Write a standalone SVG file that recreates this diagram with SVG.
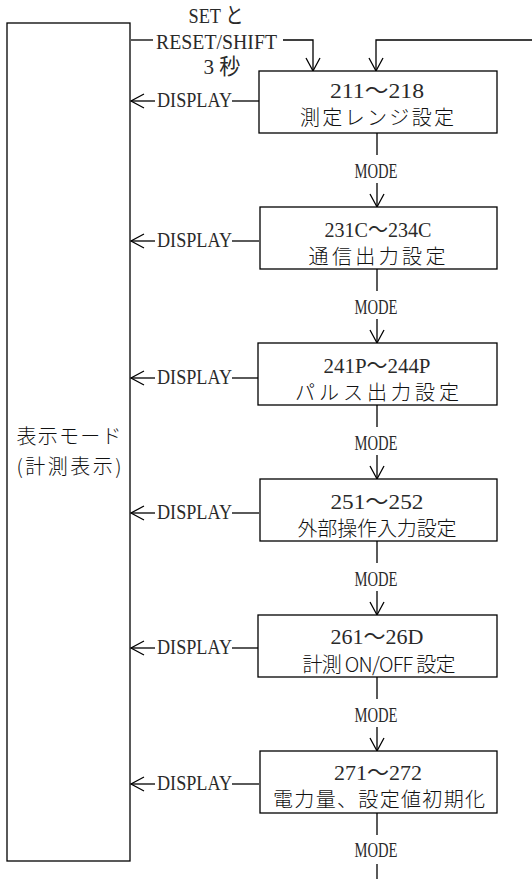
<svg xmlns="http://www.w3.org/2000/svg" width="532" height="879" viewBox="0 0 532 879">
<style>
.bx{fill:#fff;stroke:#000;stroke-width:1.3}
.ln{fill:none;stroke:#000;stroke-width:1.3}
.lt{font-family:"Liberation Serif","Noto Sans CJK JP",serif;font-size:22px;fill:#2a2a2a}
.jp{font-family:"Noto Sans CJK JP","Liberation Serif",sans-serif;font-size:20px;font-weight:300;fill:#111}
.c{text-anchor:middle}
</style>
<defs>
<marker id="ah" viewBox="-15 -9 17 18" markerWidth="17" markerHeight="18" refX="0" refY="0" orient="auto" markerUnits="userSpaceOnUse">
<path d="M-13,-7 L0,0 L-13,7" fill="none" stroke="#000" stroke-width="1.3"/>
</marker>
</defs>
<rect width="532" height="879" fill="#fff"/>
<g id="connectors">
<path class="ln" d="M131,40 H153"/>
<path class="ln" d="M283,40 H313 V71" marker-end="url(#ah)"/>
<path class="ln" d="M532,40 H376 V71" marker-end="url(#ah)"/>
<path class="ln" d="M155,101 H131" marker-end="url(#ah)"/><path class="ln" d="M232,101 H259"/>
<path class="ln" d="M155,241 H131" marker-end="url(#ah)"/><path class="ln" d="M232,241 H259"/>
<path class="ln" d="M155,378 H131" marker-end="url(#ah)"/><path class="ln" d="M232,378 H259"/>
<path class="ln" d="M155,513 H131" marker-end="url(#ah)"/><path class="ln" d="M232,513 H259"/>
<path class="ln" d="M155,648 H131" marker-end="url(#ah)"/><path class="ln" d="M232,648 H259"/>
<path class="ln" d="M155,784 H131" marker-end="url(#ah)"/><path class="ln" d="M232,784 H259"/>
<path class="ln" d="M377,133 V155"/><path class="ln" d="M377,183 V207" marker-end="url(#ah)"/>
<path class="ln" d="M377,269 V291"/><path class="ln" d="M377,319 V343" marker-end="url(#ah)"/>
<path class="ln" d="M377,405 V427"/><path class="ln" d="M377,455 V479" marker-end="url(#ah)"/>
<path class="ln" d="M377,541 V563"/><path class="ln" d="M377,591 V615" marker-end="url(#ah)"/>
<path class="ln" d="M377,677 V699"/><path class="ln" d="M377,727 V751" marker-end="url(#ah)"/>
<path class="ln" d="M377,813 V835"/><path class="ln" d="M377,864 V879"/>
<text class="lt c" x="216" y="23" textLength="55" lengthAdjust="spacingAndGlyphs">SET と</text>
<text class="lt c" x="216.5" y="49" textLength="121" lengthAdjust="spacingAndGlyphs">RESET/SHIFT</text>
<text class="lt c" x="222" y="74" textLength="37" lengthAdjust="spacingAndGlyphs">3 秒</text>
<text class="lt" x="157" y="107" textLength="75" lengthAdjust="spacingAndGlyphs">DISPLAY</text>
<text class="lt" x="157" y="247" textLength="75" lengthAdjust="spacingAndGlyphs">DISPLAY</text>
<text class="lt" x="157" y="384" textLength="75" lengthAdjust="spacingAndGlyphs">DISPLAY</text>
<text class="lt" x="157" y="519" textLength="75" lengthAdjust="spacingAndGlyphs">DISPLAY</text>
<text class="lt" x="157" y="654" textLength="75" lengthAdjust="spacingAndGlyphs">DISPLAY</text>
<text class="lt" x="157" y="790" textLength="75" lengthAdjust="spacingAndGlyphs">DISPLAY</text>
<text class="lt c" x="376" y="178" textLength="43" lengthAdjust="spacingAndGlyphs">MODE</text>
<text class="lt c" x="376" y="314" textLength="43" lengthAdjust="spacingAndGlyphs">MODE</text>
<text class="lt c" x="376" y="450" textLength="43" lengthAdjust="spacingAndGlyphs">MODE</text>
<text class="lt c" x="376" y="586" textLength="43" lengthAdjust="spacingAndGlyphs">MODE</text>
<text class="lt c" x="376" y="722" textLength="43" lengthAdjust="spacingAndGlyphs">MODE</text>
<text class="lt c" x="376" y="857" textLength="43" lengthAdjust="spacingAndGlyphs">MODE</text>
</g>
<g id="display-mode">
<rect class="bx" x="7" y="23" width="123" height="838"/>
<text class="jp c" x="69" y="444" textLength="105" lengthAdjust="spacing">表示モード</text>
<text class="jp c" x="69" y="474" textLength="105" lengthAdjust="spacing">(計測表示)</text>
</g>
<g id="n211">
<rect class="bx" x="259" y="71" width="238" height="62"/>
<text class="lt c" x="377" y="98" textLength="94" lengthAdjust="spacingAndGlyphs">211〜218</text>
<text class="jp c" x="377" y="125" textLength="154" lengthAdjust="spacing">測定レンジ設定</text>
</g>
<g id="n231">
<rect class="bx" x="260" y="207" width="237" height="62"/>
<text class="lt c" x="378" y="237" textLength="107" lengthAdjust="spacingAndGlyphs">231C〜234C</text>
<text class="jp c" x="377" y="264" textLength="137" lengthAdjust="spacing">通信出力設定</text>
</g>
<g id="n241">
<rect class="bx" x="258" y="343" width="239" height="62"/>
<text class="lt c" x="377" y="373" textLength="107" lengthAdjust="spacingAndGlyphs">241P〜244P</text>
<text class="jp c" x="377" y="400" textLength="164" lengthAdjust="spacing">パルス出力設定</text>
</g>
<g id="n251">
<rect class="bx" x="260" y="479" width="237" height="62"/>
<text class="lt c" x="377" y="509" textLength="93" lengthAdjust="spacingAndGlyphs">251〜252</text>
<text class="jp c" x="377" y="536" textLength="159" lengthAdjust="spacing">外部操作入力設定</text>
</g>
<g id="n261">
<rect class="bx" x="258" y="615" width="239" height="62"/>
<text class="lt c" x="377" y="644" textLength="93" lengthAdjust="spacingAndGlyphs">261〜26D</text>
<text class="jp c" x="379" y="672" textLength="153" lengthAdjust="spacing">計測 ON/OFF 設定</text>
</g>
<g id="n271">
<rect class="bx" x="260" y="751" width="237" height="62"/>
<text class="lt c" x="378" y="780" textLength="88" lengthAdjust="spacingAndGlyphs">271〜272</text>
<text class="jp c" x="379" y="807" textLength="212" lengthAdjust="spacing">電力量、設定値初期化</text>
</g>
</svg>
